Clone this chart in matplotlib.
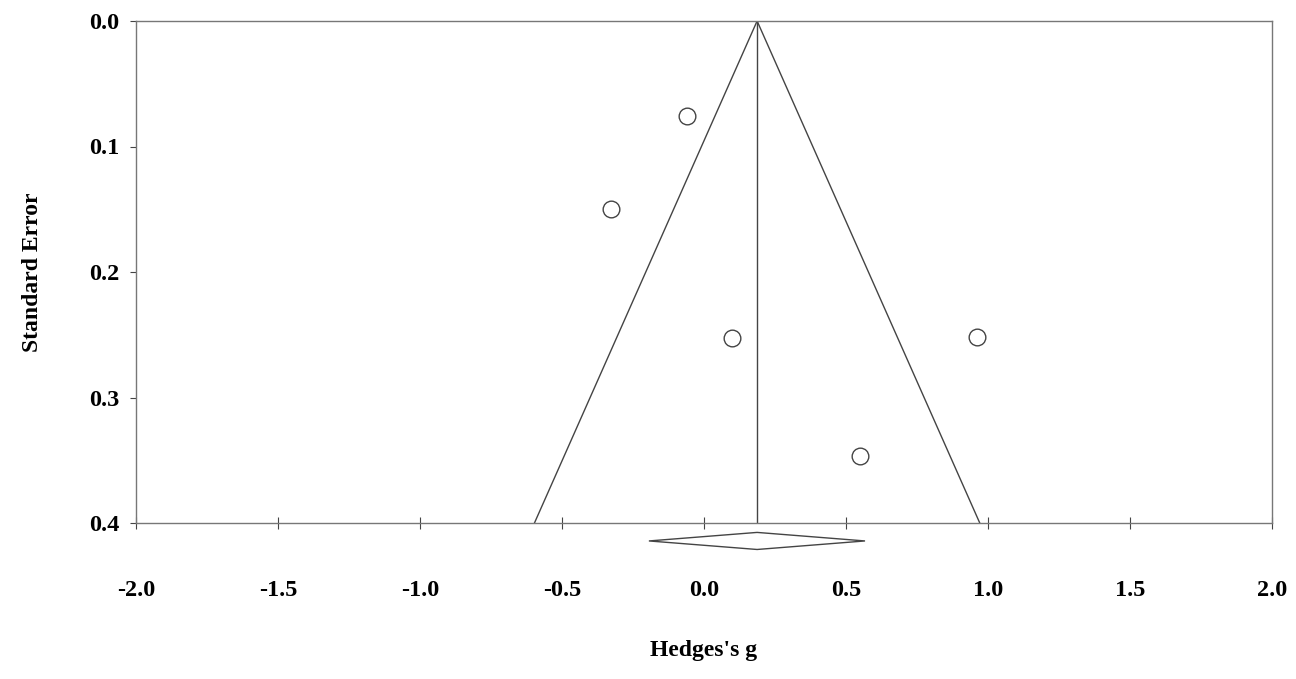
import matplotlib.pyplot as plt
import numpy as np

# study effects (Hedges's g) and standard errors
g_values = [-0.06, -0.327, 0.099, 0.961, 0.549]
se_values = [0.0757, 0.150, 0.2526, 0.2518, 0.347]

pooled_g = 0.187
ci_low = -0.194
ci_high = 0.567
se_max = 0.4

x_ticks = [-2.0, -1.5, -1.0, -0.5, 0.0, 0.5, 1.0, 1.5, 2.0]
y_ticks = [0.0, 0.1, 0.2, 0.3, 0.4]

plt.rcParams["font.family"] = ["Liberation Serif", "DejaVu Serif"]
plt.rcParams["font.weight"] = "bold"

fig = plt.figure(figsize=(12.96, 6.79), dpi=100)
ax = fig.add_axes([136 / 1296, 1 - 523 / 679, (1272 - 136) / 1296, (523 - 21) / 679])

line_col = "#444444"
spine_col = "#777777"

# funnel
ax.plot([pooled_g - 1.96 * se_max, pooled_g, pooled_g + 1.96 * se_max],
        [se_max, 0, se_max], color=line_col, linewidth=1)
ax.plot([pooled_g, pooled_g], [0, se_max], color=line_col, linewidth=1)

# studies
ax.plot(g_values, se_values, linestyle="none", marker="o", markersize=12,
        markerfacecolor="white", markeredgecolor=line_col, markeredgewidth=1)

# summary diamond below the axis
dh = 0.0068
dy = 0.4143
ax.fill([ci_low, pooled_g, ci_high, pooled_g, ci_low],
        [dy, dy - dh, dy, dy + dh, dy], facecolor="white",
        edgecolor=line_col, linewidth=1, clip_on=False)

ax.set_xlim(-2.0, 2.0)
ax.set_ylim(0.4, 0.0)
ax.set_xticks(x_ticks)
ax.set_yticks(y_ticks)
ax.set_xticklabels([f"{v:.1f}" for v in x_ticks])
ax.set_yticklabels([f"{v:.1f}" for v in y_ticks])

for s in ax.spines.values():
    s.set_color(spine_col)
    s.set_linewidth(1)

ax.tick_params(axis="x", direction="inout", length=8, color=line_col,
               pad=37, labelsize=17.5)
ax.tick_params(axis="y", direction="out", length=4, color=line_col,
               pad=8, labelsize=17.5)

ax.set_xlabel("Hedges's g", fontsize=17, fontweight="bold", labelpad=28)
ax.set_ylabel("Standard Error", fontsize=17, fontweight="bold", labelpad=33)

fig.savefig("out.png", dpi=100)
